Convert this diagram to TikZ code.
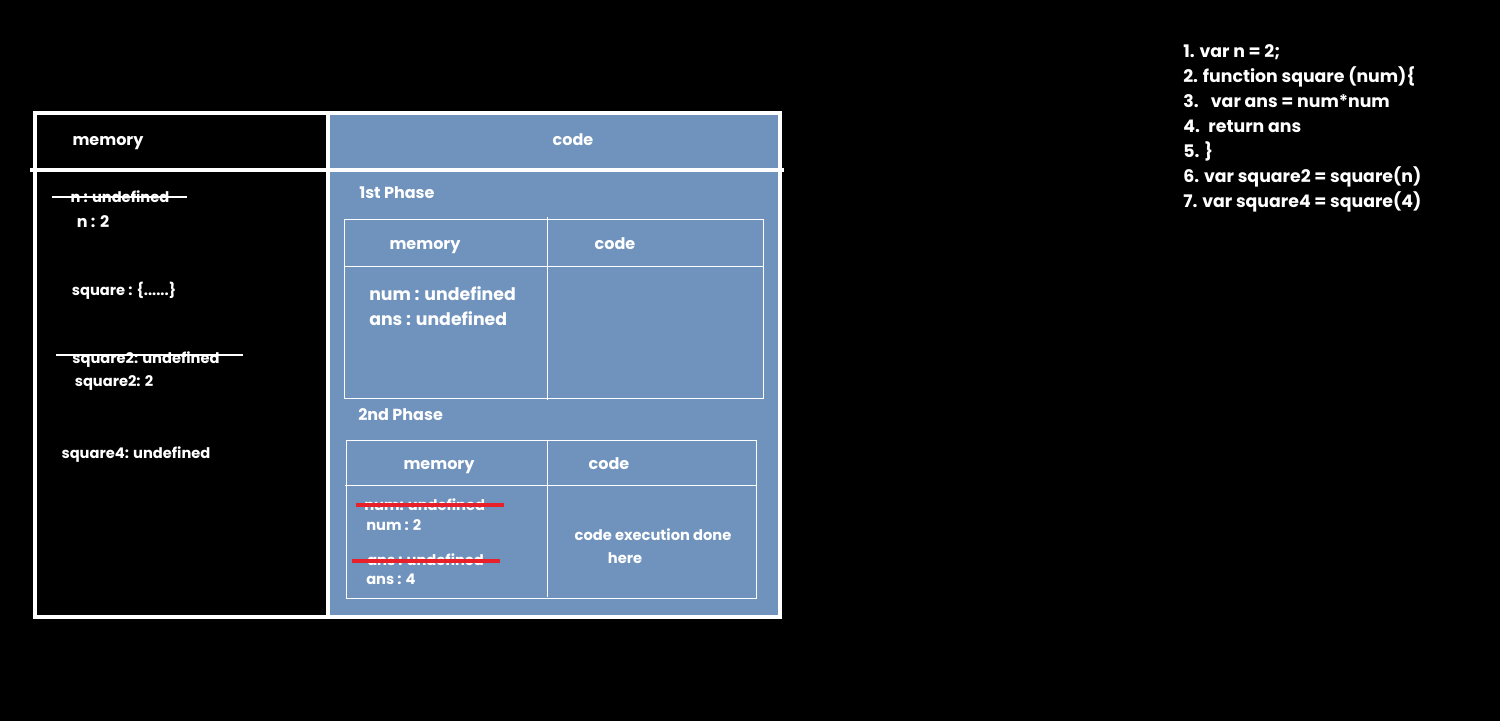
\documentclass[tikz,border=0pt]{standalone}
\usepackage{fontspec}
\setmainfont{Poppins}
\usepackage{tikz}
\definecolor{panel}{HTML}{7093BE}
\definecolor{cross}{HTML}{E8202A}
\tikzset{frame/.style={draw=white,line width=3pt},
  grid/.style={draw=white,line width=0.75pt},
  txt/.style={text=white,font=\fontsize{11}{13}\selectfont\bfseries,inner sep=0pt,anchor=mid,yshift=-2.2pt},
  big/.style={txt,font=\fontsize{12}{14}\selectfont\bfseries},
  src/.style={txt,font=\fontsize{13}{15}\selectfont\bfseries,anchor=mid west},
  strike/.style={draw=white,line width=0.9pt},
  redstrike/.style={draw=cross,line width=2.4pt}}

\begin{document}
\begin{tikzpicture}[x=0.75pt,y=-0.75pt]
  \useasboundingbox[fill=black] (0,0) rectangle (1500,721);
  % outer frame
  \fill[panel] (329,113) rectangle (780,617);
  \draw[frame] (35,113) rectangle (780,617);
  \draw[frame] (328,113) -- (328,617);
  \draw[frame] (30,170) -- (784,170);
  \node[big] (memhead) at (108,139) {memory};
  \node[big] (codehead) at (573,139) {code};

  % left memory column
  \node[txt] (nundef) at (120,196) {n : undefined};
  \draw[strike] (52,197) -- (187,197);
  \node[big] (nval) at (93,221) {n : 2};
  \node[txt] (sqfn) at (124,289) {square : \{......\}};
  \node[txt] (sqtwoundef) at (146,357) {square2: undefined};
  \draw[strike] (56,355) -- (243,355);
  \node[txt] (sqtwoval) at (114,380) {square2: 2};
  \node[txt] (sqfourundef) at (136,452) {square4: undefined};

  % first phase
  \node[big,anchor=mid west] (phaseone) at (359,192) {1st Phase};
  \draw[grid] (344,219) rectangle (763,398);
  \draw[grid] (344,266) -- (763,266);
  \draw[grid] (547,217) -- (547,400);
  \node[big] (memone) at (425,243) {memory};
  \node[big] (codeone) at (615,243) {code};
  \node[src] (numone) at (369,294) {num : undefined};
  \node[src] (ansone) at (369,319) {ans : undefined};

  % second phase
  \node[big,anchor=mid west] (phasetwo) at (358,414) {2nd Phase};
  \draw[grid] (346,440) rectangle (756,598);
  \draw[grid] (345,485) -- (756,485);
  \draw[grid] (547,440) -- (547,597);
  \node[big] (memtwo) at (439,463) {memory};
  \node[big] (codetwo) at (609,463) {code};
  \node[txt,anchor=mid west] (numundef) at (364,504) {num: undefined};
  \draw[redstrike] (356,505) -- (504,505);
  \node[txt,anchor=mid west] (numval) at (366,524) {num : 2};
  \node[txt,anchor=mid west] (ansundef) at (367,559) {ans : undefined};
  \draw[redstrike] (352,561) -- (500,561);
  \node[txt,anchor=mid west] (ansval) at (366,578) {ans : 4};
  \node[txt] (exec) at (653,534) {code execution done};
  \node[txt] (here) at (625,557) {here};

  % source listing
  \foreach \s [count=\i] in {{1. var n = 2;},{2. function square (num)\{},
      {3. \ \ var ans = num*num},{4. \ return ans},{5. \}},
      {6. var square2 = square(n)},{7. var square4 = square(4)}}
    \node[src] (line\i) at (1183,26+25*\i) {\s};
\end{tikzpicture}
\end{document}
